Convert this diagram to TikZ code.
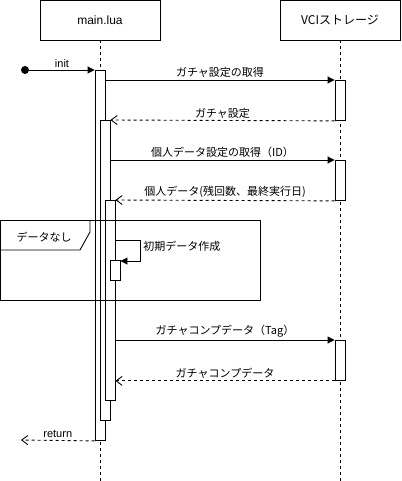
\documentclass[tikz,border=0pt]{standalone}
\usepackage{fontspec}
\setmainfont{Liberation Sans}
\newfontfamily\jp{Noto Sans CJK JP}
\usetikzlibrary{arrows.meta}
\begin{document}
\begin{tikzpicture}[x=1pt,y=-1pt, line width=0.9pt,
 every node/.style={font=\fontsize{11}{13}\selectfont},
 jpl/.style={font=\jp\fontsize{11}{13}\selectfont},
 head/.style={draw, minimum width=120pt, minimum height=40pt, inner sep=0pt, font=\fontsize{12}{14}\selectfont},
 life/.style={dash pattern=on 3pt off 3pt},
 act/.style={draw, fill=white, minimum width=10pt, inner sep=0pt, anchor=north},
 call/.style={-{Triangle[length=7pt,width=7pt]}},
 ret/.style={dash pattern=on 3pt off 3pt, -{Straight Barb[length=6pt,width=9pt]}},
 lbl/.style={anchor=south, inner sep=2pt}]
\useasboundingbox (0,0) rectangle (401,481);
% heads
\node[head] (m) at (100,20) {main.lua};
\node[head, font=\jp\fontsize{12}{14}\selectfont] (v) at (340,20) {VCIストレージ};
\coordinate (mend) at (100,481);
\coordinate (vend) at (340,481);
\draw[life] (m.south) -- (mend);
\draw[life] (v.south) -- (vend);
% activations
\node[act, minimum height=370pt] (a1) at (100,70) {};
\node[act, minimum height=300pt] (a2) at (105,120) {};
\node[act, minimum height=200pt] (a3) at (110,200) {};
\node[act, minimum height=20pt] (s) at (115,260) {};
\node[act, minimum height=40pt] (v1) at (340,80) {};
\node[act, minimum height=40pt] (v2) at (340,160) {};
\node[act, minimum height=40pt] (v3) at (340,340) {};
% init
\node[circle, fill, inner sep=0pt, minimum size=8pt] (dot) at (25,70) {};
\draw[call] (dot) -- (a1.north west) node[lbl, midway] {init};
% messages
\draw[call] (a1.east |- v1.north) -- (v1.north west) node[lbl, midway, jpl] {ガチャ設定の取得};
\draw[ret] (v1.south west) -- (a2.north east) node[lbl, midway, jpl] {ガチャ設定};
\draw[call] (a2.east |- v2.north) -- (v2.north west) node[lbl, midway, jpl] {個人データ設定の取得（ID）};
\draw[ret] (v2.south west) -- (a3.north east) node[lbl, midway, jpl] {個人データ(残回数、最終実行日)};
% self call
\coordinate (selfR) at (140,240);
\coordinate (selfB) at (140,261);
\draw[call] (a3.east |- selfR) -- (selfR) -- (selfB) -- (s.east |- selfB);
\node[jpl, anchor=west, inner sep=1pt] (selflbl) at (142,246) {初期データ作成};
% frame
\draw (0.5,220) rectangle (260,300);
\draw (0.5,250) -- (80,250) -- (90,232) -- (90,220);
\node[jpl] (fl) at (44,237) {データなし};
% later messages
\draw[call] (a3.east |- v3.north) -- (v3.north west) node[lbl, midway, jpl] {ガチャコンプデータ（Tag）};
\draw[ret] (v3.south west) -- (a3.east |- v3.south) node[lbl, midway, jpl] {ガチャコンプデータ};
% return
\coordinate (retEnd) at (21,440);
\draw[ret] (a1.south west) -- (retEnd) node[lbl, midway] {return};
\end{tikzpicture}
\end{document}
